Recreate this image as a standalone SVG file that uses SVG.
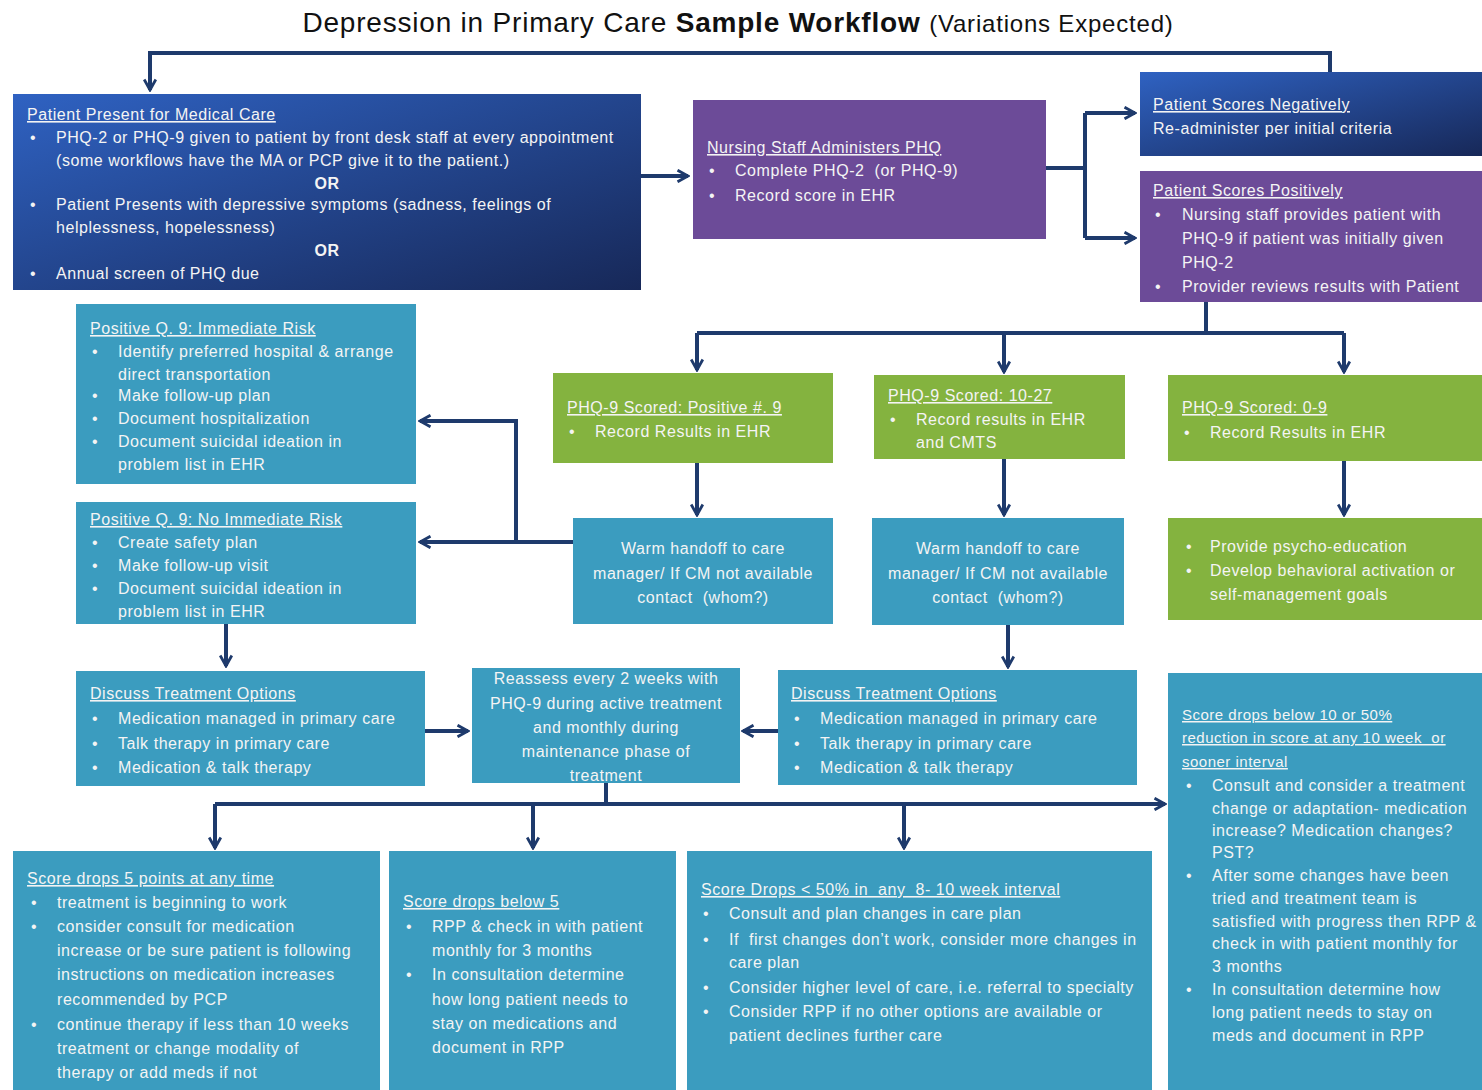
<svg xmlns="http://www.w3.org/2000/svg" width="1482" height="1090" viewBox="0 0 1482 1090">
<style>
.t{font-family:"Liberation Sans",Arial,sans-serif;font-size:16px;letter-spacing:0.55px;fill:#f4f4f4;white-space:pre}
.h{text-decoration:underline}
.s{font-size:15px;letter-spacing:0.5px}
.c{text-anchor:middle}
.or{font-weight:bold;text-anchor:middle}
.teal{fill:#3b9cbf}
.green{fill:#84b33f}
.purple{fill:#6c4b98}
.conn{fill:none;stroke:#1e3a6c;stroke-width:4}
</style>
<defs>
<linearGradient id="blue" x1="0" y1="0" x2="1" y2="1">
<stop offset="0" stop-color="#2f62c2"/>
<stop offset="1" stop-color="#172858"/>
</linearGradient>
<marker id="ar" viewBox="0 0 12 12" refX="10" refY="6" markerWidth="14" markerHeight="14" markerUnits="userSpaceOnUse" orient="auto">
<path d="M1,1 L10,6 L1,11" fill="none" stroke="#1e3a6c" stroke-width="2.4"/>
</marker>
</defs>
<rect width="1482" height="1090" fill="#ffffff"/>

<text x="738" y="32" text-anchor="middle" font-family="Liberation Sans,Arial,sans-serif" font-size="28" letter-spacing="0.8" fill="#111">Depression in Primary Care <tspan font-weight="bold">Sample Workflow</tspan> <tspan font-size="24">(Variations Expected)</tspan></text>

<g id="connectors">
<path class="conn" d="M1330,72 V53 H150 V90" marker-end="url(#ar)"/>
<path class="conn" d="M641,176 H688" marker-end="url(#ar)"/>
<path class="conn" d="M1046,168 H1085"/>
<path class="conn" d="M1085,113 V238"/>
<path class="conn" d="M1085,113 H1135" marker-end="url(#ar)"/>
<path class="conn" d="M1085,238 H1135" marker-end="url(#ar)"/>
<path class="conn" d="M1206,302 V333"/>
<path class="conn" d="M697,333 H1344"/>
<path class="conn" d="M697,333 V370" marker-end="url(#ar)"/>
<path class="conn" d="M1004,333 V372" marker-end="url(#ar)"/>
<path class="conn" d="M1344,333 V372" marker-end="url(#ar)"/>
<path class="conn" d="M697,463 V515" marker-end="url(#ar)"/>
<path class="conn" d="M1004,459 V515" marker-end="url(#ar)"/>
<path class="conn" d="M1344,461 V515" marker-end="url(#ar)"/>
<path class="conn" d="M573,542 H420" marker-end="url(#ar)"/>
<path class="conn" d="M516,542 V421 H420" marker-end="url(#ar)"/>
<path class="conn" d="M226,624 V666" marker-end="url(#ar)"/>
<path class="conn" d="M1008,625 V667" marker-end="url(#ar)"/>
<path class="conn" d="M425,731 H468" marker-end="url(#ar)"/>
<path class="conn" d="M778,731 H743" marker-end="url(#ar)"/>
<path class="conn" d="M606,783 V804"/>
<path class="conn" d="M215,804 H1165" marker-end="url(#ar)"/>
<path class="conn" d="M215,804 V848" marker-end="url(#ar)"/>
<path class="conn" d="M533,804 V848" marker-end="url(#ar)"/>
<path class="conn" d="M904,804 V848" marker-end="url(#ar)"/>
</g>

<g id="patient-present">
<rect x="13" y="94" width="628" height="196" fill="url(#blue)"/>
<text class="t h" x="27" y="120">Patient Present for Medical Care</text>
<text class="t" x="30" y="143">•</text><text class="t" x="56" y="143">PHQ-2 or PHQ-9 given to patient by front desk staff at every appointment</text>
<text class="t" x="56" y="166">(some workflows have the MA or PCP give it to the patient.)</text>
<text class="t or" x="327" y="189">OR</text>
<text class="t" x="30" y="210">•</text><text class="t" x="56" y="210">Patient Presents with depressive symptoms (sadness, feelings of</text>
<text class="t" x="56" y="233">helplessness, hopelessness)</text>
<text class="t or" x="327" y="256">OR</text>
<text class="t" x="30" y="279">•</text><text class="t" x="56" y="279">Annual screen of PHQ due</text>
</g>

<g id="nursing">
<rect class="purple" x="693" y="100" width="353" height="139"/>
<text class="t h" x="707" y="153">Nursing Staff Administers PHQ</text>
<text class="t" x="709" y="176">•</text><text class="t" x="735" y="176">Complete PHQ-2  (or PHQ-9)</text>
<text class="t" x="709" y="201">•</text><text class="t" x="735" y="201">Record score in EHR</text>
</g>

<g id="scores-negatively">
<rect x="1140" y="72" width="342" height="84" fill="url(#blue)"/>
<text class="t h" x="1153" y="110">Patient Scores Negatively</text>
<text class="t" x="1153" y="134">Re-administer per initial criteria</text>
</g>

<g id="scores-positively">
<rect class="purple" x="1140" y="171" width="342" height="131"/>
<text class="t h" x="1153" y="196">Patient Scores Positively</text>
<text class="t" x="1155" y="220">•</text><text class="t" x="1182" y="220">Nursing staff provides patient with</text>
<text class="t" x="1182" y="244">PHQ-9 if patient was initially given</text>
<text class="t" x="1182" y="268">PHQ-2</text>
<text class="t" x="1155" y="292">•</text><text class="t" x="1182" y="292">Provider reviews results with Patient</text>
</g>

<g id="phq-positive-9">
<rect class="green" x="553" y="373" width="280" height="90"/>
<text class="t h" x="567" y="413">PHQ-9 Scored: Positive #. 9</text>
<text class="t" x="569" y="437">•</text><text class="t" x="595" y="437">Record Results in EHR</text>
</g>

<g id="phq-10-27">
<rect class="green" x="874" y="375" width="251" height="84"/>
<text class="t h" x="888" y="401">PHQ-9 Scored: 10-27</text>
<text class="t" x="890" y="425">•</text><text class="t" x="916" y="425">Record results in EHR</text>
<text class="t" x="916" y="448">and CMTS</text>
</g>

<g id="phq-0-9">
<rect class="green" x="1168" y="375" width="314" height="86"/>
<text class="t h" x="1182" y="413">PHQ-9 Scored: 0-9</text>
<text class="t" x="1184" y="438">•</text><text class="t" x="1210" y="438">Record Results in EHR</text>
</g>

<g id="handoff-1">
<rect class="teal" x="573" y="518" width="260" height="106"/>
<text class="t c" x="703" y="554">Warm handoff to care</text>
<text class="t c" x="703" y="579">manager/ If CM not available</text>
<text class="t c" x="703" y="603">contact  (whom?)</text>
</g>

<g id="handoff-2">
<rect class="teal" x="872" y="518" width="252" height="107"/>
<text class="t c" x="998" y="554">Warm handoff to care</text>
<text class="t c" x="998" y="579">manager/ If CM not available</text>
<text class="t c" x="998" y="603">contact  (whom?)</text>
</g>

<g id="psycho-education">
<rect class="green" x="1168" y="518" width="314" height="102"/>
<text class="t" x="1186" y="552">•</text><text class="t" x="1210" y="552">Provide psycho-education</text>
<text class="t" x="1186" y="576">•</text><text class="t" x="1210" y="576">Develop behavioral activation or</text>
<text class="t" x="1210" y="600">self-management goals</text>
</g>

<g id="immediate-risk">
<rect class="teal" x="76" y="304" width="340" height="180"/>
<text class="t h" x="90" y="334">Positive Q. 9: Immediate Risk</text>
<text class="t" x="92" y="357">•</text><text class="t" x="118" y="357">Identify preferred hospital &amp; arrange</text>
<text class="t" x="118" y="380">direct transportation</text>
<text class="t" x="92" y="401">•</text><text class="t" x="118" y="401">Make follow-up plan</text>
<text class="t" x="92" y="424">•</text><text class="t" x="118" y="424">Document hospitalization</text>
<text class="t" x="92" y="447">•</text><text class="t" x="118" y="447">Document suicidal ideation in</text>
<text class="t" x="118" y="470">problem list in EHR</text>
</g>

<g id="no-immediate-risk">
<rect class="teal" x="76" y="502" width="340" height="122"/>
<text class="t h" x="90" y="525">Positive Q. 9: No Immediate Risk</text>
<text class="t" x="92" y="548">•</text><text class="t" x="118" y="548">Create safety plan</text>
<text class="t" x="92" y="571">•</text><text class="t" x="118" y="571">Make follow-up visit</text>
<text class="t" x="92" y="594">•</text><text class="t" x="118" y="594">Document suicidal ideation in</text>
<text class="t" x="118" y="617">problem list in EHR</text>
</g>

<g id="discuss-left">
<rect class="teal" x="76" y="671" width="349" height="115"/>
<text class="t h" x="90" y="699">Discuss Treatment Options</text>
<text class="t" x="92" y="724">•</text><text class="t" x="118" y="724">Medication managed in primary care</text>
<text class="t" x="92" y="749">•</text><text class="t" x="118" y="749">Talk therapy in primary care</text>
<text class="t" x="92" y="773">•</text><text class="t" x="118" y="773">Medication &amp; talk therapy</text>
</g>

<g id="reassess">
<rect class="teal" x="472" y="668" width="268" height="115"/>
<text class="t c" x="606" y="684">Reassess every 2 weeks with</text>
<text class="t c" x="606" y="709">PHQ-9 during active treatment</text>
<text class="t c" x="606" y="733">and monthly during</text>
<text class="t c" x="606" y="757">maintenance phase of</text>
<text class="t c" x="606" y="781">treatment</text>
</g>

<g id="discuss-right">
<rect class="teal" x="778" y="670" width="359" height="115"/>
<text class="t h" x="791" y="699">Discuss Treatment Options</text>
<text class="t" x="794" y="724">•</text><text class="t" x="820" y="724">Medication managed in primary care</text>
<text class="t" x="794" y="749">•</text><text class="t" x="820" y="749">Talk therapy in primary care</text>
<text class="t" x="794" y="773">•</text><text class="t" x="820" y="773">Medication &amp; talk therapy</text>
</g>

<g id="drops-5-points">
<rect class="teal" x="13" y="851" width="367" height="239"/>
<text class="t h" x="27" y="884">Score drops 5 points at any time</text>
<text class="t" x="31" y="908">•</text><text class="t" x="57" y="908">treatment is beginning to work</text>
<text class="t" x="31" y="932">•</text><text class="t" x="57" y="932">consider consult for medication</text>
<text class="t" x="57" y="956">increase or be sure patient is following</text>
<text class="t" x="57" y="980">instructions on medication increases</text>
<text class="t" x="57" y="1005">recommended by PCP</text>
<text class="t" x="31" y="1030">•</text><text class="t" x="57" y="1030">continue therapy if less than 10 weeks</text>
<text class="t" x="57" y="1054">treatment or change modality of</text>
<text class="t" x="57" y="1078">therapy or add meds if not</text>
</g>

<g id="drops-below-5">
<rect class="teal" x="389" y="851" width="287" height="239"/>
<text class="t h" x="403" y="907">Score drops below 5</text>
<text class="t" x="406" y="932">•</text><text class="t" x="432" y="932">RPP &amp; check in with patient</text>
<text class="t" x="432" y="956">monthly for 3 months</text>
<text class="t" x="406" y="980">•</text><text class="t" x="432" y="980">In consultation determine</text>
<text class="t" x="432" y="1005">how long patient needs to</text>
<text class="t" x="432" y="1029">stay on medications and</text>
<text class="t" x="432" y="1053">document in RPP</text>
</g>

<g id="drops-50">
<rect class="teal" x="687" y="851" width="465" height="239"/>
<text class="t h" x="701" y="895">Score Drops &lt; 50% in  any  8- 10 week interval</text>
<text class="t" x="703" y="919">•</text><text class="t" x="729" y="919">Consult and plan changes in care plan</text>
<text class="t" x="703" y="945">•</text><text class="t" x="729" y="945">If  first changes don’t work, consider more changes in</text>
<text class="t" x="729" y="968">care plan</text>
<text class="t" x="703" y="993">•</text><text class="t" x="729" y="993">Consider higher level of care, i.e. referral to specialty</text>
<text class="t" x="703" y="1017">•</text><text class="t" x="729" y="1017">Consider RPP if no other options are available or</text>
<text class="t" x="729" y="1041">patient declines further care</text>
</g>

<g id="drops-below-10">
<rect class="teal" x="1168" y="673" width="314" height="417"/>
<text class="t h s" x="1182" y="720">Score drops below 10 or 50%</text>
<text class="t h s" x="1182" y="743">reduction in score at any 10 week  or</text>
<text class="t h s" x="1182" y="767">sooner interval</text>
<text class="t" x="1186" y="791">•</text><text class="t" x="1212" y="791">Consult and consider a treatment</text>
<text class="t" x="1212" y="814">change or adaptation- medication</text>
<text class="t" x="1212" y="836">increase? Medication changes?</text>
<text class="t" x="1212" y="858">PST?</text>
<text class="t" x="1186" y="881">•</text><text class="t" x="1212" y="881">After some changes have been</text>
<text class="t" x="1212" y="904">tried and treatment team is</text>
<text class="t" x="1212" y="927">satisfied with progress then RPP &amp;</text>
<text class="t" x="1212" y="949">check in with patient monthly for</text>
<text class="t" x="1212" y="972">3 months</text>
<text class="t" x="1186" y="995">•</text><text class="t" x="1212" y="995">In consultation determine how</text>
<text class="t" x="1212" y="1018">long patient needs to stay on</text>
<text class="t" x="1212" y="1041">meds and document in RPP</text>
</g>
</svg>
